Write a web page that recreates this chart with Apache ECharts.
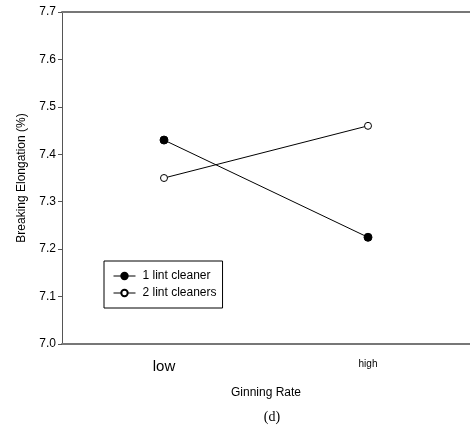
<!DOCTYPE html>
<html><head><meta charset="utf-8">
<script src="https://cdn.jsdelivr.net/npm/echarts@6/dist/echarts.min.js"></script>
<style>html,body{margin:0;padding:0;background:#fff}#c{width:470px;height:442px}</style>
</head><body><div id="c"></div>
<script>
const categories = ['low', 'high'];
const oneCleaner = [7.43, 7.225];
const twoCleaners = [7.35, 7.46];
const yTicks = [7.0, 7.1, 7.2, 7.3, 7.4, 7.5, 7.6, 7.7];

const chart = echarts.init(document.getElementById('c'));
const font = 'Liberation Sans, Arial, sans-serif';
chart.setOption({
  animation: false,
  title: {
    text: '(d)', left: 267, top: 405, textAlign: 'center',
    textStyle: {fontFamily: 'Liberation Serif, Times New Roman, serif', fontSize: 14, fontWeight: 'normal', color: '#000'}
  },
  grid: {left: 62, top: 12, width: 413, height: 332, containLabel: false},
  legend: {
    left: 104, top: 261, orient: 'vertical', padding: [9, 6, 9, 9],
    borderColor: '#000', borderWidth: 1, itemGap: 5,
    itemWidth: 22, itemHeight: 8,
    textStyle: {fontFamily: font, fontSize: 12, color: '#000', padding: [0, 0, 0, 2]},
    lineStyle: {width: 1},
    data: ['1 lint cleaner', '2 lint cleaners']
  },
  xAxis: [{
    type: 'category', data: [
      {value: categories[0], textStyle: {fontSize: 15}},
      {value: categories[1], textStyle: {fontSize: 10, padding: [0, 0, 8, 0]}}
    ],
    boundaryGap: true,
    name: 'Ginning Rate', nameLocation: 'middle', nameGap: 43,
    nameTextStyle: {fontFamily: font, fontSize: 12, color: '#000'},
    axisLine: {lineStyle: {color: '#777', width: 2}},
    axisTick: {show: false},
    axisLabel: {fontFamily: font, color: '#000', margin: 15},
    splitLine: {show: false}
  }, {
    type: 'category', position: 'top', data: categories,
    axisLine: {lineStyle: {color: '#777', width: 2}},
    axisTick: {show: false}, axisLabel: {show: false}, splitLine: {show: false}
  }],
  yAxis: {
    type: 'value', min: yTicks[0], max: yTicks[yTicks.length - 1], interval: 0.1,
    name: 'Breaking Elongation (%)', nameLocation: 'middle', nameGap: 34,
    nameTextStyle: {fontFamily: font, fontSize: 12, color: '#000'},
    axisLine: {show: true, lineStyle: {color: '#555', width: 1}},
    axisTick: {show: true, length: 4, lineStyle: {color: '#555'}},
    axisLabel: {fontFamily: font, fontSize: 12, color: '#000', margin: 6, formatter: v => v.toFixed(1)},
    splitLine: {show: false}
  },
  series: [{
    name: '1 lint cleaner', type: 'line', data: oneCleaner,
    symbol: 'circle', symbolSize: 8,
    lineStyle: {color: '#000', width: 1},
    itemStyle: {color: '#000', borderColor: '#000', borderWidth: 1}
  }, {
    name: '2 lint cleaners', type: 'line', data: twoCleaners,
    symbol: 'circle', symbolSize: 7,
    lineStyle: {color: '#000', width: 1},
    itemStyle: {color: '#fff', borderColor: '#000', borderWidth: 1}
  }]
});
</script></body></html>
